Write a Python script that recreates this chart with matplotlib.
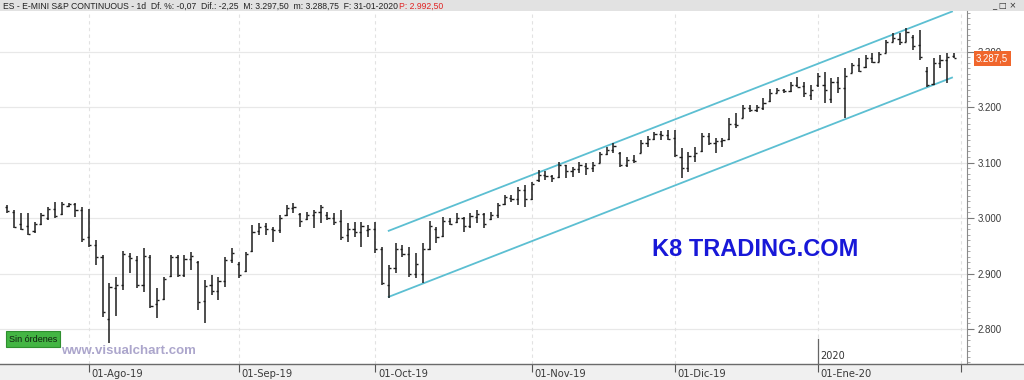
import matplotlib
matplotlib.use('Agg')
import matplotlib.pyplot as plt
import matplotlib.transforms as mtransforms
from matplotlib.patches import Rectangle
from matplotlib.lines import Line2D
from matplotlib.ticker import MultipleLocator, FuncFormatter
import numpy as np
import pandas as pd

# daily ES bars 16-Jul-2019 .. 31-Jan-2020
holidays = ['2019-09-02', '2019-12-25', '2020-01-01', '2020-01-20']
dates = pd.bdate_range('2019-07-16', '2020-01-31')
dates = dates[~dates.isin(pd.to_datetime(holidays))]

opens = [3020, 3011, 2990, 2985, 2976, 2990, 3000, 3016, 3008, 3022,
         3025, 3014, 2966, 2952, 2930, 2818, 2874, 2880, 2932, 2925,
         2880, 2930, 2845, 2855, 2895, 2930, 2897, 2926, 2920, 2850,
         2880, 2868, 2886, 2925, 2918, 2905, 2940, 2976, 2985, 2980,
         2978, 3005, 3018, 3008, 2998, 3005, 3010, 3005, 3000, 2995,
         2970, 2980, 2975, 2978, 2980, 2945, 2880, 2910, 2945, 2935,
         2900, 2900, 2945, 2980, 2968, 2995, 2992, 3000, 2985, 3002,
         3008, 2998, 3005, 3025, 3036, 3034, 3050, 3035, 3068, 3078,
         3075, 3074, 3095, 3085, 3088, 3094, 3090, 3100, 3115, 3122,
         3118, 3095, 3105, 3118, 3136, 3142, 3152, 3150, 3145, 3110,
         3090, 3112, 3120, 3148, 3136, 3138, 3142, 3170, 3180, 3198,
         3195, 3198, 3210, 3226, 3230, 3228, 3240, 3238, 3222, 3240,
         3240, 3215, 3245, 3235, 3262, 3275, 3272, 3288, 3282, 3298,
         3318, 3322, 3318, 3326, 3312, 3265, 3242, 3280, 3284, 3292]
highs = [3023, 3014, 3009, 3009, 2993, 3009, 3020, 3029, 3029, 3027,
         3027, 3020, 3016, 2960, 2933, 2883, 2894, 2940, 2937, 2931,
         2946, 2933, 2874, 2894, 2933, 2933, 2933, 2939, 2922, 2888,
         2897, 2894, 2930, 2946, 2921, 2939, 2987, 2991, 2991, 2984,
         3005, 3023, 3027, 3009, 3011, 3014, 3023, 3011, 3009, 3014,
         2991, 2993, 2993, 2987, 2993, 2948, 2915, 2955, 2951, 2948,
         2937, 2955, 2995, 2984, 3002, 3000, 3009, 3002, 3009, 3014,
         3009, 3011, 3027, 3041, 3041, 3056, 3059, 3065, 3086, 3085,
         3078, 3101, 3096, 3092, 3101, 3099, 3101, 3119, 3128, 3135,
         3119, 3110, 3114, 3141, 3148, 3155, 3157, 3159, 3159, 3126,
         3119, 3128, 3153, 3153, 3144, 3144, 3180, 3189, 3204, 3204,
         3204, 3216, 3232, 3234, 3232, 3245, 3254, 3245, 3240, 3261,
         3263, 3252, 3254, 3270, 3279, 3288, 3294, 3297, 3299, 3321,
         3333, 3333, 3342, 3330, 3339, 3272, 3288, 3294, 3297, 3297.5]
lows = [3009, 2982, 2978, 2969, 2973, 2987, 2996, 3000, 3005, 3020,
        3002, 2957, 2948, 2915, 2822, 2775, 2823, 2870, 2901, 2874,
        2867, 2838, 2820, 2852, 2894, 2894, 2894, 2906, 2834, 2811,
        2861, 2852, 2876, 2919, 2892, 2903, 2939, 2969, 2969, 2957,
        2973, 3004, 3009, 2984, 2996, 2982, 2991, 2996, 2987, 2960,
        2957, 2966, 2948, 2966, 2937, 2879, 2856, 2901, 2930, 2894,
        2892, 2883, 2942, 2955, 2966, 2987, 2991, 2975, 2982, 2991,
        2982, 2996, 3000, 3023, 3029, 3023, 3020, 3032, 3065, 3068,
        3065, 3072, 3072, 3074, 3081, 3077, 3083, 3099, 3113, 3117,
        3092, 3092, 3099, 3117, 3128, 3141, 3141, 3141, 3110, 3072,
        3083, 3101, 3119, 3131, 3117, 3128, 3141, 3162, 3180, 3191,
        3191, 3195, 3209, 3225, 3225, 3227, 3236, 3218, 3213, 3236,
        3207, 3207, 3225, 3180, 3261, 3263, 3270, 3279, 3281, 3297,
        3317, 3312, 3317, 3303, 3285, 3236, 3240, 3270, 3243, 3288.75]
closes = [3013, 2984, 2980, 2972, 2990, 3005, 3016, 3004, 3026, 3025,
          3014, 2962, 2951, 2930, 2830, 2875, 2880, 2936, 2928, 2880,
          2932, 2842, 2853, 2890, 2930, 2897, 2926, 2932, 2848, 2878,
          2868, 2886, 2925, 2937, 2898, 2935, 2975, 2984, 2980, 2978,
          3000, 3018, 3020, 2995, 3005, 3010, 3020, 3000, 2992, 2966,
          2980, 2975, 2985, 2980, 2945, 2883, 2910, 2945, 2935, 2900,
          2918, 2945, 2985, 2965, 2995, 2990, 3000, 2985, 3004, 3008,
          2990, 3005, 3024, 3038, 3034, 3050, 3035, 3062, 3078, 3075,
          3072, 3095, 3085, 3088, 3095, 3090, 3096, 3115, 3122, 3130,
          3095, 3105, 3102, 3136, 3142, 3152, 3150, 3142, 3113, 3090,
          3112, 3118, 3148, 3136, 3138, 3140, 3170, 3168, 3198, 3195,
          3200, 3208, 3225, 3230, 3228, 3240, 3236, 3225, 3230, 3255,
          3230, 3245, 3235, 3255, 3275, 3265, 3288, 3282, 3296, 3318,
          3324, 3318, 3335, 3310, 3290, 3240, 3280, 3284, 3290, 3289]

month_labels = ['01-Ago-19', '01-Sep-19', '01-Oct-19', '01-Nov-19',
                '01-Dic-19', '01-Ene-20', '']
price_ticks = [2800, 2900, 3000, 3100, 3200, 3300]

# trend channel drawn on the chart
channel_bars = [56, 138.7]
channel_low = [2858, 3253]
channel_high = [2977, 3372]
last_price = 3287.5

header = 'ES - E-MINI S&P CONTINUOUS - 1d  Df. %: -0,07  Dif.: -2,25  M: 3.297,50  m: 3.288,75  F: 31-01-2020'
header_p = 'P: 2.992,50'

x = np.arange(len(dates))
m = dates.month
month_idx = list(np.flatnonzero(m[1:] != m[:-1]) + 1) + [len(dates)]

W, H = 1024, 380
fig = plt.figure(figsize=(W / 100, H / 100), dpi=100)
fig.patch.set_facecolor('white')
ax = fig.add_axes([0, 16 / H, 967 / W, 353 / H])

# background bands
fig.patches.append(Rectangle((0, 0), 1, 16 / H, transform=fig.transFigure,
                             fc='#f0f0f0', ec='none', zorder=-1))
fig.patches.append(Rectangle((0, 369 / H), 1, 11 / H, transform=fig.transFigure,
                             fc='#e2e2e2', ec='none', zorder=-1))
fig.lines.append(Line2D([0, 1], [16 / H, 16 / H], transform=fig.transFigure,
                        color='#6a6a6a', lw=1.0))

ax.set_xlim(-1.07, 140.9)
ax.set_ylim(2737, 3373)

# grid
for p in price_ticks:
    ax.axhline(p, color='#e8e8e8', lw=0.9, zorder=0)
for i in month_idx:
    ax.axvline(i, color='#e2e2e2', lw=0.8, ls=(0, (3, 3)), zorder=0)

# OHLC bars
bar_col = '#1c1c1c'
ax.vlines(x, lows, highs, color=bar_col, lw=1.1, zorder=3)
ax.hlines(opens, x - 0.32, x, color=bar_col, lw=1.0, zorder=3)
ax.hlines(closes, x, x + 0.32, color=bar_col, lw=1.0, zorder=3)

# channel
ch_col = '#5cbfd2'
ax.plot(channel_bars, channel_low, color=ch_col, lw=1.3, zorder=2)
ax.plot(channel_bars, channel_high, color=ch_col, lw=1.3, zorder=2)

# axes styling
for s in ['top', 'left', 'bottom']:
    ax.spines[s].set_visible(False)
ax.spines['right'].set_color('#8a8a8a')
ax.yaxis.tick_right()
ax.set_yticks(price_ticks)
ax.yaxis.set_minor_locator(MultipleLocator(10))
ax.yaxis.set_major_formatter(FuncFormatter(lambda v, _: f'{v:,.0f}'.replace(',', '.')))
ax.tick_params(axis='y', which='major', length=5, color='#7a7a7a',
               labelsize=7, labelcolor='#3a3a3a', pad=2.5)
ax.tick_params(axis='y', which='minor', length=2.5, color='#9a9a9a')
for lab in ax.get_yticklabels():
    lab.set_family('Liberation Sans')

# month ticks with left-aligned labels
blend_x = mtransforms.blended_transform_factory(ax.transData, ax.transAxes)
off = mtransforms.ScaledTranslation(2 / 72, 0, fig.dpi_scale_trans)
ax.set_xticks(month_idx)
ax.set_xticklabels([])
ax.tick_params(axis='x', length=6, color='#555555')
for i, lab in zip(month_idx, month_labels):
    ax.text(i, -0.013, lab, transform=blend_x + off, fontsize=7.2, color='#3a3a3a',
            va='top', ha='left', clip_on=False)

# last price tag
blend_y = mtransforms.blended_transform_factory(ax.transAxes, ax.transData)
ax.text(1.0095, last_price, '3.287,5', transform=blend_y, va='center', ha='left',
        color='white', fontsize=7, family='Liberation Sans', clip_on=False, zorder=6,
        bbox=dict(boxstyle='square,pad=0.25', fc='#f0662c', ec='none'))

# year marker
jan = month_idx[5]
ax.plot([jan, jan], [0, 0.07], transform=blend_x, color='#666666', lw=0.9, clip_on=False)
ax.text(jan + 0.3, 0.022, '2020', transform=blend_x, fontsize=7, color='#333333',
        va='center', ha='left')

# watermarks and labels
fig.text(652 / W, 1 - 250 / H, 'K8 TRADING.COM', fontsize=17, fontweight='bold',
         color='#1818d8', family='Liberation Sans', va='center', ha='left')
fig.text(61 / W, 1 - 351 / H, 'www.visualchart.com', fontsize=9.5, fontweight='bold',
         color='#aca6cc', family='Liberation Sans', va='center', ha='left')
fig.text(9 / W, 1 - 339 / H, 'Sin órdenes', fontsize=6.5, color='#102010',
         family='Liberation Sans', va='center', ha='left',
         bbox=dict(boxstyle='square,pad=0.35', fc='#43b543', ec='#2f8f2f', lw=0.8))

# header line
fig.text(3 / W, 1 - 6 / H, header, fontsize=6.2, color='#222222',
         family='Liberation Sans', va='center', ha='left')
fig.text(399 / W, 1 - 6 / H, header_p, fontsize=6.2, color='#e02424',
         family='Liberation Sans', va='center', ha='left')
fig.text(1016 / W, 1 - 6 / H, '_ □ ×', fontsize=6, color='#333333',
         va='center', ha='right')

fig.savefig('out.png', dpi=100)
